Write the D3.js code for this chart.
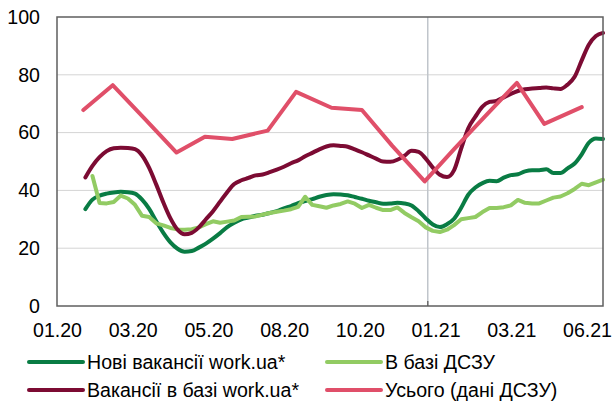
<!DOCTYPE html>
<html>
<head>
<meta charset="utf-8">
<script src="https://cdn.jsdelivr.net/npm/d3@7/dist/d3.min.js"></script>
<style>
  html, body { margin: 0; padding: 0; background: #fff; }
  svg { display: block; font-family: "Liberation Sans", Arial, sans-serif; }
</style>
</head>
<body>
<svg id="chart" width="614" height="401"></svg>
<script>
// Tick labels along the bottom
const xLabels = ["01.20", "03.20", "05.20", "08.20", "10.20", "01.21", "03.21", "06.21"];
const yTicks = [0, 20, 40, 60, 80, 100];

// Weekly series (one value per week)
const newWorkUaStart = "2020-01-29";
const newWorkUa = [33.5, 36.8, 38.2, 38.9, 39.3, 39.5, 39.4, 38.9, 36.8, 33.6,
  29.3, 25.3, 22, 19.8, 18.8, 19.0, 20.2, 21.6, 23.3, 25.2,
  27.3, 28.8, 30, 30.6, 31.2, 31.6, 32.2, 32.8, 33.8, 34.6,
  35.6, 36.3, 37, 37.8, 38.4, 38.7, 38.6, 38.3, 37.7, 37.1,
  36.4, 35.9, 35.4, 35.5, 35.7, 35.5, 34.8, 32.8, 30.3, 28.2,
  27.3, 28.3, 30.2, 34, 38.5, 41, 42.5, 43.3, 43.2, 44.4,
  45.3, 45.6, 46.6, 47, 47, 47.3, 46, 46, 47.6, 49.3,
  52.5, 56.5, 58, 57.8];

const dszuBaseStart = "2020-02-05";
const dszuBase = [45, 35.6, 35.5, 36, 38.2, 37.2, 35, 31.2, 30.8, 28.6,
  27.9, 27, 26.5, 26.4, 26.6, 27.2, 28.3, 29.3, 28.8, 29.2,
  29.6, 30.8, 30.9, 31, 31.6, 32.2, 32.6, 33, 33.5, 34.3,
  37.8, 35, 34.5, 34, 34.8, 35.3, 36.2, 35.4, 33.9, 35,
  34, 33.2, 33.2, 34.1, 32.2, 30.7, 29.3, 27.2, 26, 25.6,
  26.4, 28, 30, 30.4, 30.8, 32.5, 33.9, 33.9, 34.2, 34.8,
  36.7, 35.7, 35.5, 35.5, 36.5, 37.5, 37.9, 39, 40.5, 42.3,
  41.8, 42.8, 43.7];

const baseWorkUaStart = "2020-01-29";
const baseWorkUa = [44.5, 48.5, 51.5, 53.6, 54.6, 54.8, 54.7, 54.3, 52.1, 47.8,
  42, 35.8, 30.3, 26.4, 24.8, 25.3, 27.2, 30, 32.8, 36.1,
  39.4, 42.2, 43.5, 44.3, 45.2, 45.5, 46.3, 47.2, 48.2, 49.4,
  50.4, 51.8, 53, 54.2, 55.2, 55.6, 55.4, 55.1, 54.2, 53.2,
  52.1, 51, 50, 49.9, 50.6, 52, 53.7, 53.3, 51, 47.9,
  45.4, 44.6, 47, 54.5, 61.5, 65.5, 69, 70.6, 71, 72.2,
  73.4, 74.4, 75, 75.3, 75.4, 75.6, 75.3, 75.1, 76.6, 79.3,
  85, 90.4, 93.4, 94.5];

// Monthly series (DSZU totals)
const totalDates = ["2020-01-27", "2020-02-25", "2020-03-27", "2020-04-28", "2020-05-26",
  "2020-06-22", "2020-07-27", "2020-08-24", "2020-09-28", "2020-10-28", "2020-11-27",
  "2020-12-29", "2021-01-27", "2021-02-27", "2021-03-30", "2021-04-26", "2021-06-02"];
const totalValues = [67.8, 76.4, 65, 53.1, 58.6, 57.8, 60.7, 74.1, 68.6, 67.8, 55.4,
  43.1, 54.3, 65.8, 77.2, 63, 68.8];

const seriesNames = ["Нові вакансії work.ua*", "В базі ДСЗУ", "Вакансії в базі work.ua*", "Усього (дані ДСЗУ)"];
const seriesColors = ["#097c44", "#92cb63", "#7c0b33", "#e04f69"];

const parse = d3.utcParse("%Y-%m-%d");
const weekly = (start, values) => values.map((v, i) => ({ date: d3.utcDay.offset(parse(start), 7 * i), value: v }));

const series = [
  { name: seriesNames[0], color: seriesColors[0], smooth: true, points: weekly(newWorkUaStart, newWorkUa) },
  { name: seriesNames[1], color: seriesColors[1], smooth: false, points: weekly(dszuBaseStart, dszuBase) },
  { name: seriesNames[2], color: seriesColors[2], smooth: true, points: weekly(baseWorkUaStart, baseWorkUa) },
  { name: seriesNames[3], color: seriesColors[3], smooth: false, points: totalDates.map((d, i) => ({ date: parse(d), value: totalValues[i] })) }
];

const svg = d3.select("#chart");
const plot = { left: 57, right: 603, top: 17, bottom: 306 };
const fontSize = 19.6;

const x = d3.scaleUtc()
  .domain([parse("2020-01-01"), parse("2021-06-23")])
  .range([plot.left, plot.right]);
const y = d3.scaleLinear().domain([0, 100]).range([plot.bottom, plot.top]);
const xCat = d3.scalePoint().domain(xLabels).range([57, 587]);

// Horizontal gridlines
svg.append("g")
  .selectAll("line")
  .data(yTicks.filter(t => t > 0 && t < 100))
  .join("line")
  .attr("x1", plot.left).attr("x2", plot.right)
  .attr("y1", d => y(d)).attr("y2", d => y(d))
  .attr("stroke", "#d4d4d4").attr("stroke-width", 1);

// Year boundary marker
const yearMark = parse("2021-01-01");
svg.append("line")
  .attr("x1", x(yearMark)).attr("x2", x(yearMark))
  .attr("y1", plot.top).attr("y2", plot.bottom)
  .attr("stroke", "#c0c5cb").attr("stroke-width", 1.5);
svg.append("line")
  .attr("x1", x(yearMark)).attr("x2", x(yearMark))
  .attr("y1", plot.bottom - 5).attr("y2", plot.bottom)
  .attr("stroke", "#6d6d6d").attr("stroke-width", 1.5);

// Series lines
const lineSmooth = d3.line().x(d => x(d.date)).y(d => y(d.value)).curve(d3.curveMonotoneX);
const lineStraight = d3.line().x(d => x(d.date)).y(d => y(d.value));
svg.append("g")
  .selectAll("path")
  .data(series)
  .join("path")
  .attr("d", s => (s.smooth ? lineSmooth : lineStraight)(s.points))
  .attr("fill", "none")
  .attr("stroke", s => s.color)
  .attr("stroke-width", 4)
  .attr("stroke-linejoin", "round")
  .attr("stroke-linecap", "round");

// Plot frame
svg.append("rect")
  .attr("x", plot.left).attr("y", plot.top)
  .attr("width", plot.right - plot.left).attr("height", plot.bottom - plot.top)
  .attr("fill", "none").attr("stroke", "#5f5f5f").attr("stroke-width", 1.5);

// Y axis labels
const yAxis = svg.append("g")
  .attr("transform", `translate(${plot.left},0)`)
  .call(d3.axisLeft(y).tickValues(yTicks).tickSize(0).tickPadding(17).tickFormat(d3.format("d")));
yAxis.select(".domain").remove();
yAxis.selectAll("text").attr("font-size", fontSize).attr("fill", "#000")
  .attr("font-family", "Liberation Sans, Arial, sans-serif");

// X axis labels
const xAxis = svg.append("g")
  .attr("transform", `translate(0,${plot.bottom})`)
  .call(d3.axisBottom(xCat).tickSize(0).tickPadding(17));
xAxis.select(".domain").remove();
xAxis.selectAll("text").attr("font-size", fontSize).attr("fill", "#000")
  .attr("font-family", "Liberation Sans, Arial, sans-serif");

// Legend (two columns, two rows)
const legend = svg.append("g")
  .selectAll("g")
  .data(series)
  .join("g")
  .attr("transform", (d, i) => `translate(${i % 2 === 0 ? 29 : 327},${i < 2 ? 362 : 390})`);
legend.append("line")
  .attr("x1", 0).attr("x2", 54)
  .attr("stroke", d => d.color).attr("stroke-width", 4).attr("stroke-linecap", "round");
legend.append("text")
  .attr("x", 58).attr("y", 6.5)
  .attr("font-size", fontSize).attr("fill", "#000")
  .text(d => d.name);
</script>
</body>
</html>
